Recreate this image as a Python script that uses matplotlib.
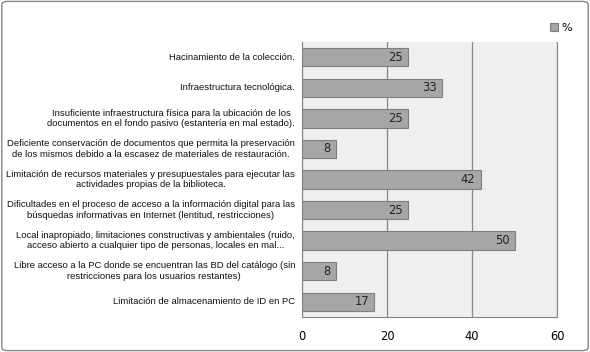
import matplotlib.pyplot as plt
import matplotlib.transforms as mtransforms
from matplotlib.patches import FancyBboxPatch

categorias = [
    "Hacinamiento de la colección.",
    "Infraestructura tecnológica.",
    "Insuficiente infraestructura física para la ubicación de los\ndocumentos en el fondo pasivo (estantería en mal estado).",
    "Deficiente conservación de documentos que permita la preservación\nde los mismos debido a la escasez de materiales de restauración.",
    "Limitación de recursos materiales y presupuestales para ejecutar las\nactividades propias de la biblioteca.",
    "Dificultades en el proceso de acceso a la información digital para las\nbúsquedas informativas en Internet (lentitud, restricciones)",
    "Local inapropiado, limitaciones constructivas y ambientales (ruido,\nacceso abierto a cualquier tipo de personas, locales en mal...",
    "Libre acceso a la PC donde se encuentran las BD del catálogo (sin\nrestricciones para los usuarios restantes)",
    "Limitación de almacenamiento de ID en PC",
]
valores = [25, 33, 25, 8, 42, 25, 50, 8, 17]
ticks_x = [0, 20, 40, 60]

fig = plt.figure(figsize=(5.9, 3.52), dpi=100)
ax = fig.add_axes([302 / 590, 1 - 317 / 352, 255 / 590, 275 / 352])
ax.set_facecolor("#efefef")

pos = list(range(len(categorias)))
barras = ax.barh(pos, valores, height=0.6, color="#a6a6a6", edgecolor="#7f7f7f",
                 linewidth=0.8, label="%", zorder=3)
for p, v in zip(pos, valores):
    ax.text(v - 1.2, p, str(v), ha="right", va="center", fontsize=8.3,
            family="DejaVu Sans", color="#222222", zorder=4)

ax.set_ylim(len(categorias) - 0.5, -0.5)
ax.set_xlim(0, 60)
ax.set_xticks(ticks_x)
ax.set_xticklabels([str(t) for t in ticks_x], fontsize=8.3, family="DejaVu Sans")
ax.set_yticks([])
ax.tick_params(axis="x", length=0, pad=9)
ax.grid(axis="x", color="#868686", linewidth=0.9, zorder=1)
ax.spines["top"].set_visible(False)
for s in ["left", "bottom", "right"]:
    ax.spines[s].set_color("#868686")

# etiquetas de categoria: bloque alineado a la derecha, lineas centradas
trans = mtransforms.blended_transform_factory(ax.transAxes, ax.transData)
trans = trans + mtransforms.ScaledTranslation(-7 / 100, 0, fig.dpi_scale_trans)
for p, txt in zip(pos, categorias):
    ax.text(0, p, txt, transform=trans, ha="right", va="center",
            multialignment="center", fontsize=6.8, family="Liberation Sans",
            color="#111111", linespacing=1.25)

fig.legend(handles=[barras], labels=["%"], loc="center", bbox_to_anchor=(561 / 590, 1 - 28 / 352),
           frameon=False, fontsize=8, handlelength=0.8, handleheight=0.8,
           handletextpad=0.3)

borde = FancyBboxPatch((0.003, 0.004), 0.994, 0.992, boxstyle="round,pad=0,rounding_size=0.01",
                       transform=fig.transFigure, fill=False, edgecolor="#868686", linewidth=1)
fig.patches.append(borde)

fig.savefig("out.png", dpi=100)
